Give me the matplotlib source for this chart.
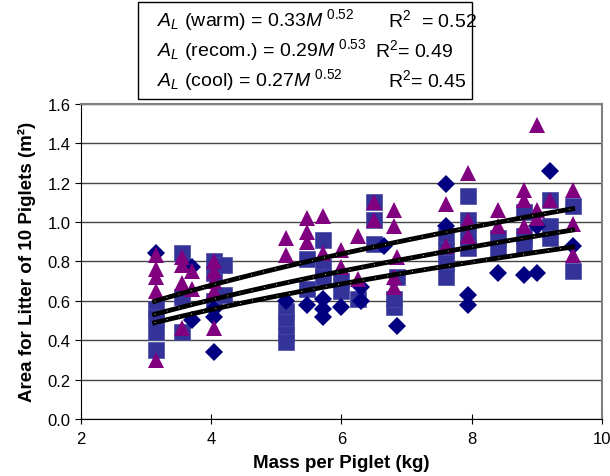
import numpy as np
import matplotlib
matplotlib.use("Agg")
import matplotlib.pyplot as plt
from matplotlib.patches import Rectangle

plt.rcParams["font.family"] = ["Liberation Sans", "DejaVu Sans"]
plt.rcParams["mathtext.fontset"] = "custom"
plt.rcParams["mathtext.rm"] = "Liberation Sans"
plt.rcParams["mathtext.it"] = "Liberation Sans:italic"
plt.rcParams["mathtext.bf"] = "Liberation Sans:bold"

# warm (triangles)
warm_x = [3.15, 3.15, 3.15, 3.15, 3.15, 3.55, 3.55, 3.55, 3.55, 3.7, 3.7,
          4.05, 4.05, 4.05, 4.05, 4.05, 5.15, 5.15, 5.47, 5.47, 5.47, 5.72, 5.72,
          6.0, 6.0, 6.25, 6.25, 6.5, 6.5, 6.8, 6.8, 6.8, 6.8, 6.85,
          7.6, 7.6, 7.95, 7.95, 7.95, 8.4, 8.4, 8.8, 8.8, 8.8,
          9.0, 9.0, 9.0, 9.2, 9.55, 9.55, 9.55]
warm_y = [0.83, 0.76, 0.72, 0.65, 0.30, 0.82, 0.78, 0.69, 0.46, 0.75, 0.66,
          0.80, 0.75, 0.70, 0.65, 0.46, 0.92, 0.83, 1.02, 0.95, 0.90, 1.03, 0.84,
          0.86, 0.77, 0.93, 0.71, 1.10, 1.01, 1.06, 0.98, 0.72, 0.67, 0.82,
          1.09, 0.88, 1.25, 1.01, 0.93, 1.06, 0.98, 1.16, 1.11, 0.98,
          1.06, 1.02, 1.49, 1.11, 1.16, 0.99, 0.83]

# recommended (squares)
recom_x = [3.15, 3.15, 3.15, 3.15, 3.55, 3.55, 3.55, 4.05, 4.05, 4.05, 4.2, 4.2,
           5.15, 5.15, 5.15, 5.15, 5.47, 5.47, 5.72, 5.72, 5.72, 6.0, 6.0, 6.25,
           6.5, 6.5, 6.5, 6.8, 6.8, 6.85, 7.6, 7.6, 7.6, 7.6,
           7.95, 7.95, 7.95, 7.95, 8.4, 8.4, 8.8, 8.8, 8.8,
           9.2, 9.2, 9.2, 9.55, 9.55]
recom_y = [0.56, 0.52, 0.44, 0.35, 0.84, 0.62, 0.44, 0.80, 0.74, 0.60, 0.78, 0.63,
           0.55, 0.49, 0.43, 0.39, 0.81, 0.66, 0.91, 0.77, 0.72, 0.70, 0.65, 0.61,
           1.10, 1.01, 0.89, 0.57, 0.61, 0.72, 0.93, 0.86, 0.79, 0.72,
           1.13, 1.01, 0.93, 0.87, 0.92, 0.86, 1.05, 0.93, 0.88,
           1.11, 0.98, 0.92, 1.08, 0.75]

# cool (diamonds)
cool_x = [3.15, 3.7, 3.7, 4.05, 4.05, 4.05, 5.15, 5.47, 5.72, 5.72, 5.72,
          6.0, 6.3, 6.3, 6.65, 6.85, 7.6, 7.6, 7.95, 7.95, 8.4, 8.8,
          9.0, 9.0, 9.2, 9.55]
cool_y = [0.84, 0.77, 0.50, 0.52, 0.56, 0.34, 0.60, 0.58, 0.61, 0.56, 0.52,
          0.57, 0.67, 0.60, 0.88, 0.47, 1.19, 0.98, 0.63, 0.58, 0.74, 0.73,
          0.98, 0.74, 1.26, 0.88]

# fitted power laws: A = a * M^b
fits = [(0.33, 0.52), (0.29, 0.53), (0.27, 0.52)]

fig = plt.figure(figsize=(6.1, 4.77), dpi=100)
ax = fig.add_axes([0.1328, 0.1195, 0.854, 0.661])

ax.set_xlim(2, 10)
ax.set_ylim(0, 1.6)
ax.set_yticks(np.arange(0, 1.61, 0.2))
ax.set_yticklabels(["%.1f" % v for v in np.arange(0, 1.61, 0.2)])
ax.set_xticks([2, 4, 6, 8, 10])
ax.yaxis.grid(True, color="#444444", lw=1)
ax.set_axisbelow(True)

ax.plot(recom_x, recom_y, "s", color="#333399", ms=12, mec="#4a4aa8", mew=0.5, zorder=3)
ax.plot(cool_x, cool_y, "D", color="#000080", ms=9, mew=0, zorder=4)
ax.plot(warm_x, warm_y, "^", color="#800080", ms=11.5, mew=0, zorder=5)

m = np.linspace(3.13, 9.55, 100)
for a, b in fits:
    ax.plot(m, a * m ** b, color="black", lw=3.5, zorder=6)
    ax.plot(m, a * m ** b, color="white", lw=0.6, ls=(0, (1, 14)), zorder=7)

for s in ["top", "right"]:
    ax.spines[s].set_color("#808080")
    ax.spines[s].set_linewidth(1.5)
ax.tick_params(axis="x", direction="inout", length=7, labelsize=12, pad=5)
ax.tick_params(axis="y", direction="out", length=4, labelsize=12)
ax.set_xlabel("Mass per Piglet (kg)", fontsize=13.5, fontweight="bold", labelpad=6)
ax.set_ylabel("Area for Litter of 10 Piglets (m²)", fontsize=13.5, fontweight="bold", labelpad=8)

fig.patches.append(Rectangle((0.226, 0.79), 0.5475, 0.203, transform=fig.transFigure,
                             fill=False, edgecolor="black", lw=1))
rows = [r"$A_{L}$ (warm) = 0.33$M^{\ 0.52}$",
        r"$A_{L}$ (recom.) = 0.29$M^{\ 0.53}$",
        r"$A_{L}$ (cool) = 0.27$M^{\ 0.52}$"]
r2 = [r"R$^2$  = 0.52", r"R$^2$= 0.49", r"R$^2$= 0.45"]
r2_x = [388, 375, 388]
for i in range(3):
    yy = 1 - (20 + 30 * i) / 477
    fig.text(157 / 610, yy, rows[i], fontsize=14, va="center", ha="left")
    fig.text(r2_x[i] / 610, yy, r2[i], fontsize=14, va="center", ha="left")

fig.savefig("out.png", dpi=100)
